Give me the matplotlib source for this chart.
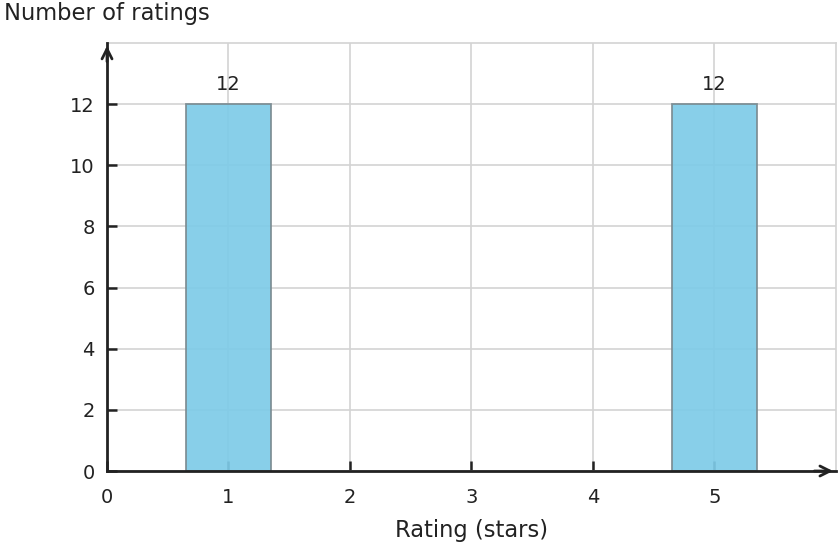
import numpy as np
import matplotlib.pyplot as plt

# ratings histogram data
ratings = [1, 2, 3, 4, 5]
counts = [12, 0, 0, 0, 12]
shown = [r for r, c in zip(ratings, counts) if c > 0]
shown_counts = [c for c in counts if c > 0]
x_ticks = [0, 1, 2, 3, 4, 5]
y_ticks = [0, 2, 4, 6, 8, 10, 12]

fig = plt.figure(figsize=(8.4, 5.48), dpi=100)
ax = fig.add_axes([0.1274, 0.1405, 0.8676, 0.781])

ax.set_xlim(0, 6)
ax.set_ylim(0, 14)
ax.set_axisbelow(True)
ax.grid(True, color='#d3d3d3', linewidth=1.2)

bars = ax.bar(shown, shown_counts, width=0.7, color='#7ecbe8', alpha=0.92,
              edgecolor='#7a8a90', linewidth=1.3, zorder=3)
ax.bar_label(bars, padding=7, fontsize=14, color='#222222')

ax.set_xticks(x_ticks)
ax.set_yticks(y_ticks)
ax.tick_params(direction='in', length=7, width=1.8, colors='#222222',
               labelsize=14, pad=9)
ax.tick_params(axis='x', pad=12)

for s in ['top', 'right']:
    ax.spines[s].set_color('#d3d3d3')
    ax.spines[s].set_linewidth(1.2)
for s in ['left', 'bottom']:
    ax.spines[s].set_color('#222222')
    ax.spines[s].set_linewidth(2)
    ax.spines[s].set_zorder(4)

# arrow heads on the axes
ax.annotate('', xy=(0, 14), xytext=(0, 13.3),
            arrowprops=dict(arrowstyle='->', color='#222222', lw=2,
                            mutation_scale=18), annotation_clip=False)
ax.annotate('', xy=(6, 0), xytext=(5.8, 0),
            arrowprops=dict(arrowstyle='->', color='#222222', lw=2,
                            mutation_scale=18), annotation_clip=False)

ax.set_xlabel('Rating (stars)', fontsize=16.3, color='#222222', labelpad=9)
fig.text(0.005, 0.976, 'Number of ratings', fontsize=16.3, color='#222222',
         ha='left', va='center')

fig.savefig('out.png', dpi=100)
